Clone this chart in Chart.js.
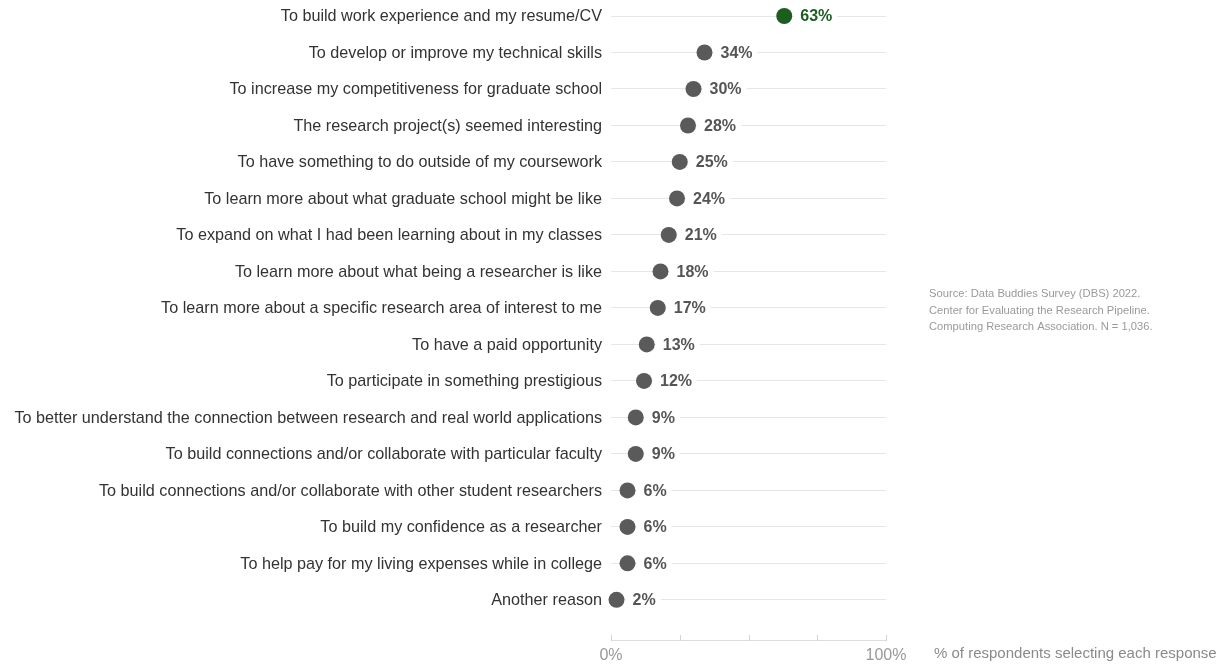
<!DOCTYPE html>
<html>
<head>
<meta charset="utf-8">
<script src="https://cdn.jsdelivr.net/npm/chart.js@4/dist/chart.umd.min.js"></script>
<style>
  html, body { margin: 0; padding: 0; background: #fff; }
  #wrap { width: 1224px; height: 664px; position: relative; }
</style>
</head>
<body>
<div id="wrap"><canvas id="dotChart"></canvas></div>
<script>
var reasons = [
    'To build work experience and my resume/CV',
    'To develop or improve my technical skills',
    'To increase my competitiveness for graduate school',
    'The research project(s) seemed interesting',
    'To have something to do outside of my coursework',
    'To learn more about what graduate school might be like',
    'To expand on what I had been learning about in my classes',
    'To learn more about what being a researcher is like',
    'To learn more about a specific research area of interest to me',
    'To have a paid opportunity',
    'To participate in something prestigious',
    'To better understand the connection between research and real world applications',
    'To build connections and/or collaborate with particular faculty',
    'To build connections and/or collaborate with other student researchers',
    'To build my confidence as a researcher',
    'To help pay for my living expenses while in college',
    'Another reason'
];
var percents = [63, 34, 30, 28, 25, 24, 21, 18, 17, 13, 12, 9, 9, 6, 6, 6, 2];
var xTicks = [0, 25, 50, 75, 100];
var xTickLabels = ['0%', '', '', '', '100%'];
var sourceLines = [
    'Source: Data Buddies Survey (DBS) 2022.',
    'Center for Evaluating the Research Pipeline.',
    'Computing Research Association. N = 1,036.'
];
var axisTitle = '% of respondents selecting each response';

var FONT = 'Helvetica, Arial, "Liberation Sans", sans-serif';
var GREEN = '#1b5e20';
var GREY = '#5a5a5a';

var dotColors = percents.map(function(v, i) {
    return i === 0 ? GREEN : GREY;
});

var points = percents.map(function(v, i) {
    return { x: v, y: i };
});

// value labels next to each dot, with a white patch that breaks the row line
var valueLabels = {
    id: 'valueLabels',
    afterDatasetsDraw: function(chart) {
        var ctx = chart.ctx;
        var meta = chart.getDatasetMeta(0);
        ctx.save();
        ctx.font = 'bold 16px ' + FONT;
        ctx.textBaseline = 'middle';
        meta.data.forEach(function(pt, i) {
            var txt = percents[i] + '%';
            var w = ctx.measureText(txt).width;
            var tx = pt.x + 16;
            ctx.fillStyle = '#fff';
            ctx.fillRect(pt.x + 9, pt.y - 6, tx - pt.x - 9 + w + 5, 12);
            ctx.fillStyle = i === 0 ? GREEN : '#555555';
            ctx.fillText(txt, tx, pt.y + 1);
        });
        ctx.restore();
    }
};

// small tick marks sitting on the x axis line, axis title and source note
var extras = {
    id: 'extras',
    afterDraw: function(chart) {
        var ctx = chart.ctx;
        var xs = chart.scales.x;
        var bottom = chart.chartArea.bottom;
        ctx.save();
        ctx.strokeStyle = '#d4d4d4';
        ctx.lineWidth = 1;
        xTicks.forEach(function(v) {
            var px = Math.round(xs.getPixelForValue(v)) + 0.5;
            ctx.beginPath();
            ctx.moveTo(px, bottom - 5);
            ctx.lineTo(px, bottom + 1);
            ctx.stroke();
        });

        ctx.fillStyle = '#8a8a8a';
        ctx.font = '15px ' + FONT;
        ctx.textBaseline = 'middle';
        ctx.textAlign = 'left';
        ctx.fillText(axisTitle, 934, 654);

        ctx.fillStyle = '#9a9a9a';
        ctx.font = '11.2px ' + FONT;
        sourceLines.forEach(function(line, i) {
            ctx.fillText(line, 929, 294 + i * 16.7);
        });
        ctx.restore();
    }
};

var ctx = document.getElementById('dotChart').getContext('2d');

var myChart = new Chart(ctx, {
    type: 'scatter',
    data: {
        datasets: [{
            data: points,
            pointRadius: 8,
            pointHoverRadius: 8,
            pointBackgroundColor: dotColors,
            pointBorderColor: dotColors,
            pointBorderWidth: 0,
            clip: false
        }]
    },
    options: {
        responsive: true,
        maintainAspectRatio: false,
        animation: false,
        layout: { padding: { top: 16, right: 338, bottom: 0, left: 0 } },
        plugins: {
            legend: { display: false },
            tooltip: { enabled: false }
        },
        scales: {
            x: {
                type: 'linear',
                min: 0,
                max: 100,
                afterBuildTicks: function(scale) {
                    scale.ticks = xTicks.map(function(v) { return { value: v }; });
                },
                afterFit: function(scale) {
                    scale.height = 24;
                    scale.paddingLeft = 0;
                    scale.paddingRight = 0;
                },
                grid: { drawOnChartArea: false, drawTicks: false },
                border: { display: true, color: '#dddddd' },
                ticks: {
                    padding: 6,
                    color: '#999999',
                    font: { family: FONT, size: 16 },
                    maxRotation: 0,
                    callback: function(v) {
                        return xTickLabels[xTicks.indexOf(v)];
                    }
                }
            },
            y: {
                type: 'linear',
                reverse: true,
                min: 0,
                max: 17.1,
                afterBuildTicks: function(scale) {
                    scale.ticks = reasons.map(function(r, i) { return { value: i }; });
                },
                afterFit: function(scale) {
                    scale.width = 611;
                    scale.paddingTop = 0;
                    scale.paddingBottom = 0;
                },
                grid: { color: '#e6e6e6', drawTicks: false },
                border: { display: false },
                ticks: {
                    padding: 9,
                    labelOffset: 1,
                    autoSkip: false,
                    color: '#333333',
                    font: { family: FONT, size: 16.2 },
                    callback: function(v) { return reasons[v]; }
                }
            }
        }
    },
    plugins: [valueLabels, extras]
});
</script>
</body>
</html>
